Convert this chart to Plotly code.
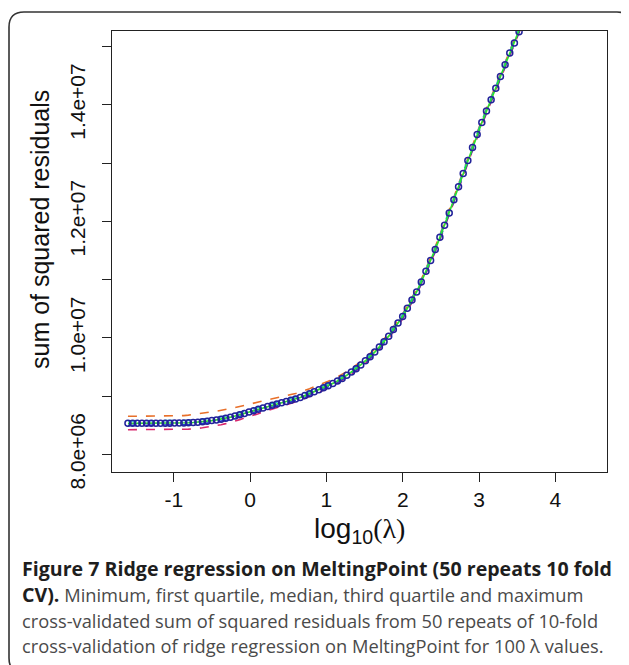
import plotly.graph_objects as go
import numpy as np

# ---------------- data ----------------
LOG10_LAMBDA = [
    -1.600, -1.539, -1.478, -1.417, -1.356, -1.295, -1.234, -1.173, -1.112, -1.051,
    -0.990, -0.929, -0.868, -0.807, -0.746, -0.685, -0.624, -0.563, -0.502, -0.441,
    -0.380, -0.319, -0.258, -0.197, -0.136, -0.075, -0.014, 0.047, 0.108, 0.169,
    0.230, 0.291, 0.352, 0.413, 0.474, 0.535, 0.596, 0.657, 0.718, 0.779,
    0.840, 0.901, 0.962, 1.023, 1.084, 1.145, 1.206, 1.267, 1.328, 1.389,
    1.450, 1.511, 1.572, 1.633, 1.694, 1.755, 1.816, 1.877, 1.938, 1.999,
    2.060, 2.121, 2.182, 2.243, 2.304, 2.365, 2.426, 2.487, 2.548, 2.609,
    2.670, 2.731, 2.792, 2.853, 2.914, 2.975, 3.036, 3.097, 3.158, 3.219,
    3.280, 3.341, 3.402, 3.463, 3.524, 3.585, 3.646,
]

# sum of squared residuals, in millions
SSR_MEDIAN = [
    8.535, 8.535, 8.535, 8.536, 8.536, 8.536, 8.537, 8.537, 8.538, 8.538,
    8.539, 8.540, 8.542, 8.545, 8.549, 8.555, 8.563, 8.572, 8.582, 8.593,
    8.605, 8.620, 8.640, 8.661, 8.683, 8.705, 8.727, 8.750, 8.775, 8.798,
    8.822, 8.845, 8.867, 8.889, 8.910, 8.930, 8.950, 8.978, 9.010, 9.044,
    9.077, 9.110, 9.144, 9.180, 9.220, 9.262, 9.305, 9.360, 9.415, 9.470,
    9.537, 9.608, 9.678, 9.757, 9.846, 9.935, 10.030, 10.143, 10.256, 10.368,
    10.508, 10.648, 10.789, 10.960, 11.143, 11.326, 11.518, 11.725, 11.933, 12.143,
    12.369, 12.594, 12.820, 13.043, 13.266, 13.489, 13.695, 13.890, 14.085, 14.283,
    14.484, 14.685, 14.886, 15.060, 15.250, 15.472, 15.670,
]
SSR_MAX = [
    8.655, 8.655, 8.655, 8.656, 8.656, 8.656, 8.657, 8.657, 8.658, 8.658,
    8.659, 8.660, 8.667, 8.675, 8.684, 8.695, 8.708, 8.722, 8.732, 8.743,
    8.755, 8.770, 8.790, 8.806, 8.823, 8.840, 8.857, 8.880, 8.900, 8.918,
    8.937, 8.955, 8.977, 8.994, 9.010, 9.030, 9.045, 9.068, 9.100, 9.129,
    9.157, 9.190, 9.219, 9.255, 9.290, 9.332, 9.370, 9.420, 9.475, 9.530,
    9.592, 9.663, 9.728, 9.807, 9.896, 9.980, 10.075, 10.188, 10.301, 10.413,
    10.553, 10.693, 10.834, 11.005, 11.188, 11.371, 11.563, 11.770, 11.978, 12.188,
    12.414, 12.639, 12.865, 13.088, 13.311, 13.534, 13.740, 13.935, 14.130, 14.328,
    14.529, 14.730, 14.931, 15.105, 15.295, 15.517, 15.715,
]
SSR_MIN = [
    8.425, 8.425, 8.425, 8.426, 8.426, 8.426, 8.427, 8.427, 8.428, 8.428,
    8.429, 8.430, 8.432, 8.435, 8.439, 8.445, 8.458, 8.472, 8.482, 8.498,
    8.510, 8.530, 8.550, 8.576, 8.598, 8.625, 8.647, 8.675, 8.700, 8.728,
    8.752, 8.780, 8.802, 8.829, 8.850, 8.875, 8.895, 8.928, 8.960, 8.994,
    9.032, 9.065, 9.104, 9.140, 9.180, 9.222, 9.265, 9.320, 9.375, 9.430,
    9.497, 9.568, 9.638, 9.717, 9.806, 9.895, 9.990, 10.103, 10.216, 10.328,
    10.468, 10.608, 10.749, 10.920, 11.103, 11.286, 11.478, 11.685, 11.893, 12.103,
    12.329, 12.554, 12.780, 13.003, 13.226, 13.449, 13.655, 13.850, 14.045, 14.243,
    14.444, 14.645, 14.846, 15.020, 15.210, 15.432, 15.630,
]
SSR_Q3 = [
    8.575, 8.575, 8.575, 8.576, 8.576, 8.576, 8.577, 8.577, 8.578, 8.578,
    8.579, 8.580, 8.582, 8.585, 8.589, 8.595, 8.603, 8.612, 8.622, 8.633,
    8.645, 8.655, 8.675, 8.696, 8.718, 8.740, 8.762, 8.785, 8.810, 8.833,
    8.857, 8.880, 8.902, 8.924, 8.945, 8.965, 8.985, 9.013, 9.045, 9.079,
    9.112, 9.140, 9.174, 9.210, 9.250, 9.292, 9.335, 9.390, 9.445, 9.500,
    9.567, 9.638, 9.708, 9.787, 9.876, 9.965, 10.060, 10.173, 10.286, 10.398,
    10.538, 10.678, 10.819, 10.990, 11.173, 11.356, 11.548, 11.755, 11.963, 12.173,
    12.399, 12.624, 12.850, 13.073, 13.296, 13.519, 13.725, 13.920, 14.115, 14.313,
    14.514, 14.715, 14.916, 15.090, 15.280, 15.502, 15.700,
]
SSR_Q1 = [
    8.500, 8.500, 8.500, 8.501, 8.501, 8.501, 8.502, 8.502, 8.503, 8.503,
    8.504, 8.505, 8.507, 8.510, 8.514, 8.520, 8.528, 8.537, 8.547, 8.558,
    8.570, 8.590, 8.610, 8.631, 8.653, 8.675, 8.697, 8.720, 8.745, 8.768,
    8.792, 8.815, 8.837, 8.859, 8.880, 8.900, 8.920, 8.948, 8.980, 9.014,
    9.047, 9.085, 9.119, 9.155, 9.195, 9.237, 9.280, 9.335, 9.390, 9.445,
    9.512, 9.583, 9.653, 9.732, 9.821, 9.910, 10.005, 10.118, 10.231, 10.343,
    10.483, 10.623, 10.764, 10.935, 11.118, 11.301, 11.493, 11.700, 11.908, 12.118,
    12.344, 12.569, 12.795, 13.018, 13.241, 13.464, 13.670, 13.865, 14.060, 14.258,
    14.459, 14.660, 14.861, 15.035, 15.225, 15.447, 15.645,
]
UNIT = 1e6  # the lists above are in millions

X_TICKS = [-1, 0, 1, 2, 3, 4]
X_TICK_LABELS = ["-1", "0", "1", "2", "3", "4"]
Y_TICKS = [8e6, 10e6, 12e6, 14e6]
Y_TICK_LABELS = ["8.0e+06", "1.0e+07", "1.2e+07", "1.4e+07"]
Y_MINOR_STEP = 1e6

BOLD_SIZE = 19.6
CAPTION = [
    f"<span style='font-size:{BOLD_SIZE}px;color:#1e1e1e'><b>Figure 7 Ridge regression on MeltingPoint (50 repeats 10 fold</b></span>",
    f"<span style='font-size:{BOLD_SIZE}px;color:#1e1e1e'><b>CV).</b></span> Minimum, first quartile, median, third quartile and maximum",
    "cross-validated sum of squared residuals from 50 repeats of 10-fold",
    "cross-validation of ridge regression on MeltingPoint for 100 λ values.",
]

# ---------------- layout geometry (reference-window pixels) ----------------
BODY = 8                      # default page margin around the plot div
WIN_W, WIN_H = 629, 665
W, H = WIN_W - BODY, WIN_H - BODY
PLOT_L, PLOT_R, PLOT_T, PLOT_B = 112, 607, 31, 472
ML, MR = PLOT_L - BODY, WIN_W - PLOT_R
MT, MB = PLOT_T - BODY, WIN_H - PLOT_B
PW, PH = PLOT_R - PLOT_L, PLOT_B - PLOT_T


def px(x):
    return (x - PLOT_L) / PW


def py(y):
    return (PLOT_B - y) / PH


x = np.array(LOG10_LAMBDA)


def s(v):
    return np.array(v) * UNIT


fig = go.Figure()
series = [
    ("minimum", SSR_MIN, "#d8286e", "dash"),
    ("maximum", SSR_MAX, "#e8702a", "dash"),
    ("first quartile", SSR_Q1, "#1f3fd0", "dash"),
    ("third quartile", SSR_Q3, "#18b0c8", "dash"),
]
for name, vals, col, dash in series:
    fig.add_trace(go.Scatter(x=x, y=s(vals), mode="lines", name=name,
                             line=dict(color=col, width=1.6, dash=dash)))
fig.add_trace(go.Scatter(x=x, y=s(SSR_MEDIAN), mode="lines+markers", name="median",
                         line=dict(color="#2ee02e", width=1.7),
                         marker=dict(symbol="circle-open", size=6, color="#22229a",
                                     line=dict(width=1.5, color="#22229a"))))

font_sans = "Liberation Sans, Arial, sans-serif"
axis_common = dict(ticks="outside", ticklen=9, tickwidth=1.2, tickcolor="#222",
                   showline=True, linecolor="#222", linewidth=1.2, mirror=True,
                   showgrid=False, zeroline=False,
                   tickfont=dict(family=font_sans, size=21, color="#111"))
fig.update_layout(
    width=W, height=H, showlegend=False,
    paper_bgcolor="white", plot_bgcolor="white",
    margin=dict(l=ML, r=MR, t=MT, b=MB, pad=0),
    font=dict(family=font_sans, size=21, color="#111"),
    xaxis=dict(range=[-1.809, 4.676], tickmode="array", tickvals=X_TICKS,
               ticktext=X_TICK_LABELS, **axis_common),
    yaxis=dict(range=[7.700e6, 15.264e6], tickmode="array", tickvals=Y_TICKS,
               ticktext=Y_TICK_LABELS, tickangle=-90, ticklabelstandoff=9,
               minor=dict(tickmode="linear", tick0=Y_TICKS[0], dtick=Y_MINOR_STEP,
                          ticks="outside", ticklen=9, tickwidth=1.2, tickcolor="#222",
                          showgrid=False),
               **axis_common),
)

# axis titles
fig.add_annotation(text="sum of squared residuals", xref="paper", yref="paper",
                   x=px(40), y=py(230), textangle=-90, showarrow=False,
                   xanchor="center", yanchor="middle",
                   font=dict(family=font_sans, size=25, color="#111"))
fig.add_annotation(text="log<sub>10</sub><span style=\"font-family:'Liberation Serif'\">(λ)</span>",
                   xref="paper", yref="paper", x=px(359.5), y=py(530),
                   showarrow=False, xanchor="center", yanchor="middle",
                   font=dict(family=font_sans, size=28, color="#111"))

# caption
cap_y = [568, 594, 620, 645]
for line, yy in zip(CAPTION, cap_y):
    fig.add_annotation(text=line, xref="paper", yref="paper", x=px(20), y=py(yy),
                       showarrow=False, xanchor="left", yanchor="middle", align="left",
                       font=dict(family="Open Sans, sans-serif", size=18.3, color="#4a4a4a"))

# rounded outer frame
x0, y0, x1, y1, r = 9, 12, 632, 673, 15
path = (f"M {px(x0 + r)},{py(y0)} L {px(x1 - r)},{py(y0)} Q {px(x1)},{py(y0)} {px(x1)},{py(y0 + r)} "
        f"L {px(x1)},{py(y1 - r)} Q {px(x1)},{py(y1)} {px(x1 - r)},{py(y1)} "
        f"L {px(x0 + r)},{py(y1)} Q {px(x0)},{py(y1)} {px(x0)},{py(y1 - r)} "
        f"L {px(x0)},{py(y0 + r)} Q {px(x0)},{py(y0)} {px(x0 + r)},{py(y0)} Z")
fig.add_shape(type="path", path=path, xref="paper", yref="paper",
              line=dict(color="#333", width=1.6), fillcolor="rgba(0,0,0,0)", layer="below")

fig.write_html("out.html")
